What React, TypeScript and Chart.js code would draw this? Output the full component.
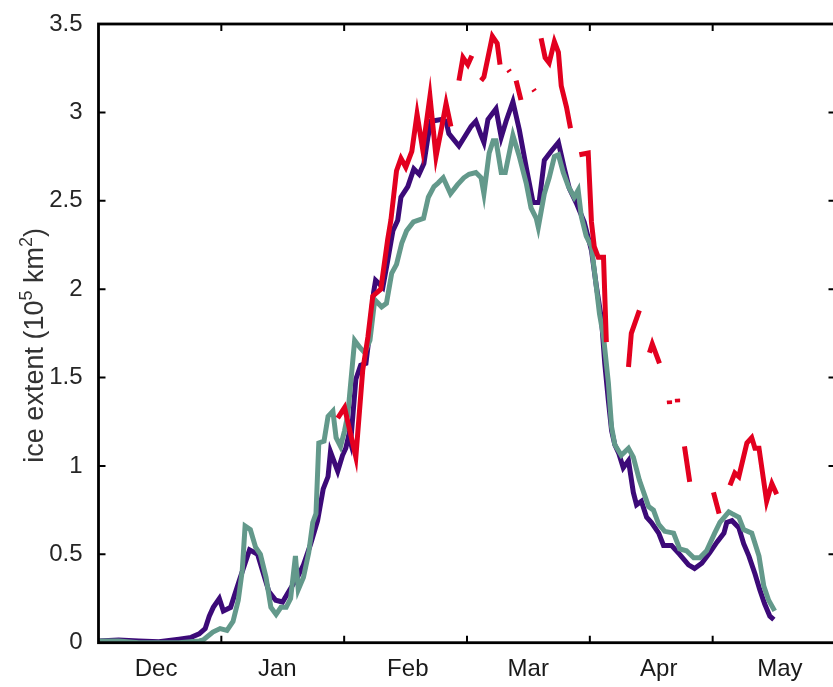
import React, { useEffect, useRef } from "react";
import { Chart, registerables } from "chart.js";

Chart.register(...registerables);

// x values are days since 1 Dec (uniform 30.5-day months on the axis)
const monthLabels = ["Dec", "Jan", "Feb", "Mar", "Apr", "May"];
const monthLabelDays = [14.3, 44.4, 76.8, 106.7, 139.1, 169.2];
const monthTickDays = [30.5, 61, 91.5, 122, 152.5];
const yTickValues = [0.5, 1, 1.5, 2, 2.5, 3];
// axis title pieces: [text, isSuperscript]
const yTitleParts: [string, boolean][] = [
  ["ice extent (10", false],
  ["5", true],
  [" km", false],
  ["2", true],
  [")", false],
];

const purpleDays = [
  0, 5, 10, 15, 20, 23, 25, 26.5, 27.5, 28.5, 30, 31, 32.8, 35, 37.5, 39.5, 40.7, 42.3, 44, 45.7,
  47.5, 49.4, 50.9, 52.7, 54.4, 55.8, 57, 57.6, 59.4, 60.6, 61.4, 62.1, 62.6, 63.9, 65.1, 66.4, 67.1,
  68.3, 68.8, 70.6, 71.8, 73.1, 74.3, 75.1, 76.8, 78.3, 79.6, 80.8, 81.8, 82.6, 85, 86.3, 87, 89.5,
  92.5, 93.7, 95, 95.7, 96.7, 98.7, 100, 101.2, 102.9, 104.5, 106.2, 107.9, 109.4, 110.7, 112.4,
  114.2, 115.7, 116.9, 118.6, 120.6, 122.4, 123.6, 124.9, 125.7, 126.6, 127.4, 128.2, 129.2, 130.3,
  131.6, 132.8, 133.6, 134.8, 136.1, 137.3, 139.1, 140.3, 142.3, 144.3, 146.5, 148, 149.8, 151.8,
  153.6, 155.3, 156, 157.3, 159, 160.2, 161.5, 163, 164.2, 165.4, 166.7, 167.7,
];
const purpleValues = [
  0.01, 0.015, 0.01, 0.005, 0.02, 0.03, 0.05, 0.08, 0.15, 0.2, 0.25, 0.18, 0.2, 0.355, 0.525, 0.5,
  0.41, 0.29, 0.24, 0.23, 0.3, 0.37, 0.44, 0.56, 0.69, 0.87, 0.94, 1.08, 0.97, 1.06, 1.1, 1.17, 1.13,
  1.49, 1.57, 1.58, 1.71, 1.98, 2.05, 2.01, 2.16, 2.33, 2.39, 2.52, 2.58, 2.68, 2.65, 2.71, 2.86,
  2.95, 2.96, 2.95, 2.88, 2.81, 2.92, 2.95, 2.87, 2.83, 2.96, 3.02, 2.86, 2.95, 3.06, 2.9, 2.69,
  2.49, 2.49, 2.73, 2.78, 2.83, 2.68, 2.57, 2.49, 2.38, 2.22, 2.02, 1.83, 1.58, 1.37, 1.2, 1.12,
  1.07, 0.99, 1.03, 0.85, 0.78, 0.8, 0.71, 0.68, 0.62, 0.55, 0.55, 0.5, 0.44, 0.42, 0.45, 0.51, 0.57,
  0.62, 0.68, 0.69, 0.65, 0.56, 0.49, 0.39, 0.3, 0.22, 0.15, 0.13,
];

const tealDays = [
  0, 5, 10, 15, 20, 25, 26, 28.4, 30.2, 31.9, 33.4, 34.7, 35.7, 36.4, 37.7, 39, 40.2, 41.6, 42.8,
  44.1, 45.3, 46.6, 47.7, 48.9, 49.6, 50.9, 52.2, 53.2, 54, 54.7, 56, 57, 58.2, 59, 60.1, 61.1, 61.9,
  63.6, 64.9, 66.1, 67.4, 68.6, 70.3, 71.5, 72.8, 74, 75.3, 76.5, 78.2, 80.7, 81.9, 83.3, 84.3, 85.6,
  87.4, 89.1, 90.7, 92, 93.7, 95, 95.7, 97, 98, 98.7, 100, 101, 102.9, 104.5, 106.2, 107.4, 108.7,
  109.2, 110.7, 111.9, 113.2, 114.2, 115.4, 116.7, 118.1, 119.1, 119.9, 121.1, 122.4, 123.1, 124.4,
  125.4, 126.6, 127.4, 128.2, 129.8, 131.6, 132.8, 134.3, 136.6, 137.8, 139.1, 140.6, 142.8, 144.3,
  146, 147.8, 149.3, 151, 153, 154.3, 156.5, 157.3, 159, 160.2, 162.2, 164, 165.2, 166.4, 167.9,
];
const tealValues = [
  0.01, 0.01, 0.0, 0.0, 0.0, 0.01, 0.015, 0.06, 0.08, 0.07, 0.12, 0.24, 0.41, 0.66, 0.64, 0.54, 0.5,
  0.37, 0.2, 0.16, 0.2, 0.2, 0.25, 0.49, 0.3, 0.37, 0.51, 0.68, 0.73, 1.13, 1.14, 1.28, 1.31, 1.16,
  1.11, 1.2, 1.29, 1.71, 1.67, 1.64, 1.71, 1.94, 1.9, 1.92, 2.09, 2.14, 2.26, 2.33, 2.38, 2.4, 2.52,
  2.58, 2.6, 2.63, 2.54, 2.59, 2.63, 2.65, 2.66, 2.63, 2.54, 2.77, 2.84, 2.84, 2.66, 2.66, 2.87, 2.75,
  2.6, 2.46, 2.4, 2.35, 2.54, 2.63, 2.75, 2.76, 2.66, 2.58, 2.52, 2.56, 2.41, 2.3, 2.24, 2.11, 1.86,
  1.73, 1.47, 1.22, 1.12, 1.06, 1.1, 1.05, 0.92, 0.77, 0.75, 0.67, 0.63, 0.62, 0.53, 0.52, 0.48, 0.48,
  0.52, 0.62, 0.68, 0.74, 0.73, 0.71, 0.64, 0.62, 0.49, 0.32, 0.24, 0.18,
];

// null entries are gaps (missing observations)
const redDays = [
  59.4, 61.1, 63.9, 65.6, 66.9, 68.1, 70.1, 71.8, 72.6, 74, 75.1, 76.3, 77.8, 79.1, 80.5, 82.3, 83.8,
  85, 86.3, 87.5, 88.5, 89.5, 90.5, 91.7, 92.7, 93.8, 95, 95.7, 97.8, 99, 99.7, 100.8, 101.8, 102.1,
  102.9, 103.7, 104.9, 106.5, 108, 108.3, 109.1, 109.9, 110.9, 111.9, 113.2, 114.2, 114.9, 116.2,
  117.2, 118.3, 119.4, 121.6, 122.4, 123.1, 124.1, 125.4, 126.1, 129, 131.6, 132.3, 134.3, 135.5,
  136.8, 137.5, 139.3, 140.5, 141.7, 141.8, 142.7, 143.7, 143.8, 144.6, 145.5, 146.8, 150, 152.7,
  154.1, 155.5, 156.8, 158, 159, 161, 162.2, 163, 164, 165.9, 167.2, 168.4,
];
const redValues = [
  1.27, 1.33, 1.05, 1.54, 1.73, 1.96, 2.0, 2.28, 2.39, 2.67, 2.74, 2.69, 2.78, 2.99, 2.79, 3.09, 2.75,
  2.89, 3.05, 2.92, null, 3.18, 3.31, 3.27, 3.32, null, 3.18, 3.2, 3.43, 3.39, 3.27, null, 3.24, 3.23,
  null, 3.18, 3.07, null, 3.13, 3.12, null, 3.42, 3.31, 3.28, 3.4, 3.34, 3.15, 3.03, 2.91, null, 2.76,
  2.77, 2.38, 2.24, 2.18, 2.18, 1.7, null, 1.56, 1.75, 1.88, null, 1.64, 1.69, 1.58, null, 1.37, 1.35,
  null, 1.38, 1.36, null, 1.11, 0.91, null, 0.85, 0.73, null, 0.89, 0.96, 0.94, 1.13, 1.16, 1.1, 1.1,
  0.8, 0.9, 0.84,
];

const FONT = "'Liberation Sans', Arial, Helvetica, sans-serif";

const toPoints = (days: number[], vals: (number | null)[]) =>
  days.map((d, i) => ({ x: d, y: vals[i] }));

const frameAndTicks = {
  id: "frameAndTicks",
  afterDatasetsDraw(chart: any) {
    const { ctx, chartArea, scales } = chart;
    const { left, right, top, bottom } = chartArea;
    const xs = scales.x;
    const ys = scales.y;
    ctx.save();
    ctx.strokeStyle = "#000000";
    ctx.lineCap = "butt";
    ctx.lineWidth = 2;
    const tl = 7;
    ctx.beginPath();
    for (const d of monthTickDays) {
      const px = xs.getPixelForValue(d);
      ctx.moveTo(px, bottom);
      ctx.lineTo(px, bottom - tl);
      ctx.moveTo(px, top);
      ctx.lineTo(px, top + tl);
    }
    for (const v of yTickValues) {
      const py = ys.getPixelForValue(v);
      ctx.moveTo(left, py);
      ctx.lineTo(left + tl, py);
      ctx.moveTo(right, py);
      ctx.lineTo(right - tl, py);
    }
    ctx.stroke();
    ctx.lineWidth = 2.8;
    ctx.lineJoin = "miter";
    ctx.strokeRect(left, top, right - left, bottom - top);
    ctx.restore();
  },
};

const yTitle = {
  id: "yTitle",
  afterDraw(chart: any) {
    const { ctx, chartArea } = chart;
    const mainFont = `27px ${FONT}`;
    const supFont = `18px ${FONT}`;
    ctx.save();
    const cy = (chartArea.top + chartArea.bottom) / 2 + 12;
    ctx.translate(36, cy);
    ctx.rotate(-Math.PI / 2);
    ctx.fillStyle = "#333333";
    ctx.textBaseline = "middle";
    ctx.textAlign = "left";
    let total = 0;
    const widths = yTitleParts.map(([t, sup]) => {
      ctx.font = sup ? supFont : mainFont;
      const w = ctx.measureText(t).width;
      total += w;
      return w;
    });
    let x = -total / 2;
    yTitleParts.forEach(([t, sup], i) => {
      ctx.font = sup ? supFont : mainFont;
      ctx.fillText(t, x, sup ? -9 : 0);
      x += widths[i];
    });
    ctx.restore();
  },
};

export default function App() {
  const ref = useRef<HTMLCanvasElement | null>(null);

  useEffect(() => {
    document.body.style.margin = "0";
    const canvas = ref.current;
    if (!canvas) return;
    const lw = 5;
    const chart = new Chart(canvas, {
      type: "line",
      data: {
        datasets: [
          {
            label: "purple",
            data: toPoints(purpleDays, purpleValues),
            borderColor: "#3c0a78",
            borderWidth: lw,
            pointRadius: 0,
            tension: 0,
            order: 3,
          },
          {
            label: "teal",
            data: toPoints(tealDays, tealValues),
            borderColor: "#63998b",
            borderWidth: lw,
            pointRadius: 0,
            tension: 0,
            order: 2,
          },
          {
            label: "red",
            data: toPoints(redDays, redValues),
            borderColor: "#e3001f",
            borderWidth: lw,
            pointRadius: 0,
            tension: 0,
            spanGaps: false,
            order: 1,
          },
        ],
      },
      options: {
        responsive: false,
        animation: false,
        events: [],
        layout: { padding: { top: 24, right: 6.5, left: 0, bottom: 0 } },
        plugins: { legend: { display: false }, tooltip: { enabled: false } },
        scales: {
          x: {
            type: "linear",
            min: 0,
            max: 183,
            grid: { display: false },
            border: { display: false },
            afterBuildTicks: (scale: any) => {
              scale.ticks = monthLabelDays.map((v) => ({ value: v }));
            },
            afterFit: (scale: any) => {
              scale.height = 44.3;
            },
            ticks: {
              autoSkip: false,
              maxRotation: 0,
              padding: 4,
              color: "#1a1a1a",
              font: { family: FONT, size: 24 },
              callback: (_v: any, i: number) => monthLabels[i],
            },
          },
          y: {
            type: "linear",
            min: 0,
            max: 3.5,
            grid: { display: false },
            border: { display: false },
            afterFit: (scale: any) => {
              scale.width = 98.5;
            },
            ticks: {
              stepSize: 0.5,
              padding: 8,
              color: "#262626",
              font: { family: FONT, size: 24 },
              callback: (v: any) => String(Number(v)),
            },
          },
        },
      },
      plugins: [frameAndTicks, yTitle],
    });
    return () => chart.destroy();
  }, []);

  return (
    <div
      style={{
        position: "absolute",
        left: 0,
        top: 0,
        width: 833,
        height: 687,
        overflow: "hidden",
        background: "#ffffff",
      }}
    >
      <canvas ref={ref} width={842} height={687} style={{ width: 842, height: 687, display: "block" }} />
    </div>
  );
}
